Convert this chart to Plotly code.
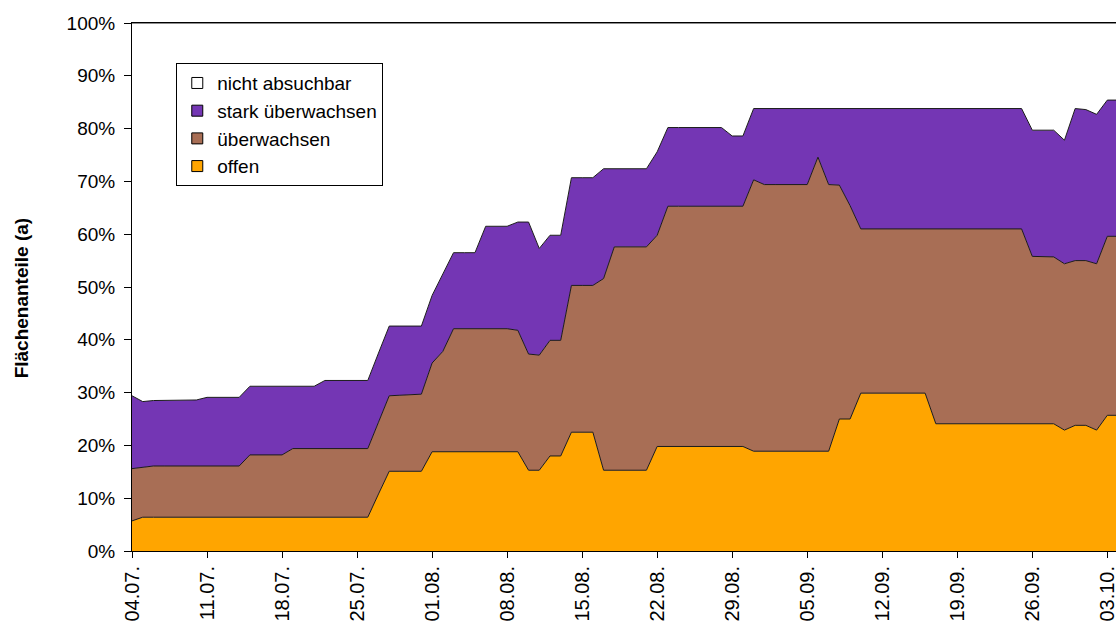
import pandas as pd
import plotly.graph_objects as go

# daily survey days, 04.07. .. 04.10.
START = "2006-07-04"
dates = pd.date_range(START, periods=93, freq="D")

# area shares in percent per day
offen = [
    5.7, 6.4, 6.4, 6.4, 6.4, 6.4, 6.4,
    6.4, 6.4, 6.4, 6.4, 6.4, 6.4, 6.4,
    6.4, 6.4, 6.4, 6.4, 6.4, 6.4, 6.4,
    6.4, 6.4, 10.8, 15.1, 15.1, 15.1, 15.1,
    18.8, 18.8, 18.8, 18.8, 18.8, 18.8, 18.8,
    18.8, 18.8, 15.3, 15.3, 18.0, 18.0, 22.5,
    22.5, 22.5, 15.3, 15.3, 15.3, 15.3, 15.3,
    19.8, 19.8, 19.8, 19.8, 19.8, 19.8, 19.8,
    19.8, 19.8, 18.9, 18.9, 18.9, 18.9, 18.9,
    18.9, 18.9, 18.9, 25.0, 25.0, 29.9, 29.9,
    29.9, 29.9, 29.9, 29.9, 29.9, 24.1, 24.1,
    24.1, 24.1, 24.1, 24.1, 24.1, 24.1, 24.1,
    24.1, 24.1, 24.1, 22.9, 23.8, 23.8, 22.9,
    25.7, 25.7,
]
ueberwachsen = [
    9.9, 9.5, 9.7, 9.7, 9.7, 9.7, 9.7,
    9.7, 9.7, 9.7, 9.7, 11.8, 11.8, 11.8,
    11.8, 13.0, 13.0, 13.0, 13.0, 13.0, 13.0,
    13.0, 13.0, 13.6, 14.3, 14.4, 14.5, 14.6,
    16.8, 19.0, 23.3, 23.3, 23.3, 23.3, 23.3,
    23.3, 23.0, 22.0, 21.8, 21.9, 21.9, 27.8,
    27.8, 27.8, 36.3, 42.3, 42.3, 42.3, 42.3,
    40.0, 45.5, 45.5, 45.5, 45.5, 45.5, 45.5,
    45.5, 45.5, 51.4, 50.5, 50.5, 50.5, 50.5,
    50.5, 55.7, 50.5, 44.3, 40.4, 31.1, 31.1,
    31.1, 31.1, 31.1, 31.1, 31.1, 36.9, 36.9,
    36.9, 36.9, 36.9, 36.9, 36.9, 36.9, 36.9,
    31.7, 31.7, 31.6, 31.5, 31.2, 31.2, 31.5,
    33.9, 33.9,
]
stark_ueberwachsen = [
    13.8, 12.4, 12.4, 12.4, 12.5, 12.5, 12.5,
    13.0, 13.0, 13.0, 13.0, 13.0, 13.0, 13.0,
    13.0, 11.8, 11.8, 11.8, 12.9, 12.9, 12.9,
    12.9, 12.9, 13.1, 13.2, 13.1, 13.0, 12.9,
    12.8, 14.7, 14.4, 14.4, 14.4, 19.4, 19.4,
    19.4, 20.5, 25.0, 20.2, 19.9, 19.9, 20.4,
    20.4, 20.4, 20.8, 14.8, 14.8, 14.8, 14.8,
    15.8, 14.9, 14.9, 14.9, 14.9, 14.9, 14.9,
    13.3, 13.3, 13.5, 14.4, 14.4, 14.4, 14.4,
    14.4, 9.2, 14.4, 14.5, 18.4, 22.8, 22.8,
    22.8, 22.8, 22.8, 22.8, 22.8, 22.8, 22.8,
    22.8, 22.8, 22.8, 22.8, 22.8, 22.8, 22.8,
    23.9, 23.9, 24.0, 23.4, 28.8, 28.6, 28.3,
    25.8, 25.8,
]
nicht_absuchbar = [
    70.6, 71.7, 71.5, 71.5, 71.4, 71.4, 71.4,
    70.9, 70.9, 70.9, 70.9, 68.8, 68.8, 68.8,
    68.8, 68.8, 68.8, 68.8, 67.7, 67.7, 67.7,
    67.7, 67.7, 62.5, 57.4, 57.4, 57.4, 57.4,
    51.6, 47.5, 43.5, 43.5, 43.5, 38.5, 38.5,
    38.5, 37.7, 37.7, 42.7, 40.2, 40.2, 29.3,
    29.3, 29.3, 27.6, 27.6, 27.6, 27.6, 27.6,
    24.4, 19.8, 19.8, 19.8, 19.8, 19.8, 19.8,
    21.4, 21.4, 16.2, 16.2, 16.2, 16.2, 16.2,
    16.2, 16.2, 16.2, 16.2, 16.2, 16.2, 16.2,
    16.2, 16.2, 16.2, 16.2, 16.2, 16.2, 16.2,
    16.2, 16.2, 16.2, 16.2, 16.2, 16.2, 16.2,
    20.3, 20.3, 20.3, 22.2, 16.2, 16.4, 17.3,
    14.6, 14.6,
]

SERIES = [
    ("offen", offen, "#FFA500"),
    ("überwachsen", ueberwachsen, "#A86E55"),
    ("stark überwachsen", stark_ueberwachsen, "#7436B4"),
    ("nicht absuchbar", nicht_absuchbar, "#FFFFFF"),
]
FONT = "Arial, Liberation Sans, sans-serif"

fig = go.Figure()

for name, vals, color in SERIES:
    fig.add_trace(go.Scatter(
        x=dates, y=vals,
        name=name,
        mode="lines",
        stackgroup="one",
        line=dict(color="#1a1a1a", width=1),
        fillcolor=color,
        showlegend=False,
        hovertemplate=name + ": %{y:.1f}%<extra></extra>",
    ))

# legend entries as square swatches, listed top series first
for i, (name, vals, color) in enumerate(reversed(SERIES)):
    fig.add_trace(go.Scatter(
        x=[None], y=[None],
        mode="markers",
        name=name,
        legendgroup=f"g{i}",
        marker=dict(symbol="square", size=11, color=color,
                    line=dict(color="black", width=1)),
    ))

fig.add_annotation(
    text="<b>Flächenanteile (a)</b>",
    xref="paper", yref="paper",
    x=-0.112, y=0.48,
    xanchor="center", yanchor="middle",
    textangle=-90,
    showarrow=False,
    font=dict(family=FONT, size=19, color="black"),
)

fig.update_layout(
    width=1118, height=623,
    margin=dict(l=132, r=0, t=23, b=72),
    paper_bgcolor="white",
    plot_bgcolor="white",
    font=dict(family=FONT, color="black"),
    showlegend=True,
    legend=dict(
        x=0.045, y=0.924, xanchor="left", yanchor="top",
        bgcolor="white", bordercolor="black", borderwidth=1,
        font=dict(family=FONT, size=19, color="black"),
        traceorder="normal",
        tracegroupgap=10,
        itemwidth=30,
    ),
    xaxis=dict(
        type="date",
        range=[dates[0], dates[0] + pd.Timedelta(days=91.81)],
        tick0=START,
        dtick=7 * 86400000,
        tickformat="%d.%m.",
        tickangle=-90,
        ticks="outside", ticklen=6, tickcolor="black",
        ticklabeloverflow="allow",
        tickfont=dict(family=FONT, size=20, color="black"),
        showline=True, linecolor="black", linewidth=1, mirror=True,
        showgrid=False, zeroline=False,
    ),
    yaxis=dict(
        range=[0, 100],
        dtick=10,
        ticksuffix="%",
        ticks="outside", ticklen=7, tickcolor="black",
        ticklabelstandoff=5,
        tickfont=dict(family=FONT, size=19, color="black"),
        showline=True, linecolor="black", linewidth=1,
        showgrid=False, zeroline=False,
    ),
)

# drop the browser's default page margin so the figure sits at the corner
fig.write_html(
    "out.html",
    config={"displayModeBar": False},
    post_script="document.body.style.margin = '0';",
)
